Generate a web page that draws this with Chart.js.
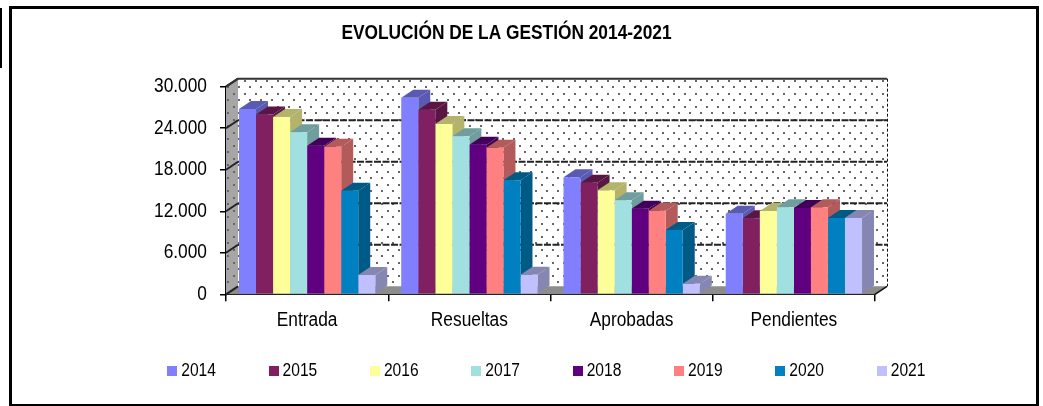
<!DOCTYPE html>
<html>
<head>
<meta charset="utf-8">
<script src="https://cdn.jsdelivr.net/npm/chart.js@4"></script>
<style>
html,body{margin:0;padding:0;background:#fff;overflow:hidden;}
#marco{position:absolute;left:9px;top:6px;width:1024px;height:395px;border:3px solid #000;border-bottom-width:2px;}
#trozo{position:absolute;left:0;top:8px;width:2px;height:60px;background:#000;}
#grafica{position:absolute;left:0;top:0;}
</style>
</head>
<body>
<div id="trozo"></div>
<div id="marco"></div>
<canvas id="grafica" width="1043" height="406"></canvas>
<script>
var categorias = ['Entrada','Resueltas','Aprobadas','Pendientes'];
var anios = ['2014','2015','2016','2017','2018','2019','2020','2021'];
var v2014 = [26780,28410,16900,11650];
var v2015 = [26000,26680,16130,10980];
var v2016 = [25620,24610,15030,12040];
var v2017 = [23400,22830,13580,12570];
var v2018 = [21480,21620,12370,12470];
var v2019 = [21330,21190,12080,12570];
var v2020 = [14970,16470,9290,11030];
var v2021 = [2790,2830,1530,11030];
var marcasY = [0,6000,12000,18000,24000,30000];
var colores = ['#8080FF','#802060','#FFFF99','#A0E0E0','#600080','#FF8080','#0080C0','#C0C0FF'];
var valores = [v2014,v2015,v2016,v2017,v2018,v2019,v2020,v2021];

// desplazamiento de la pared del fondo
var fondoX = 12;
var fondoY = 8;
var letra = '"Liberation Sans", Arial, sans-serif';

function oscurecer(hex){
    var n = parseInt(hex.slice(1),16);
    var r = Math.round((n>>16)*0.7), g = Math.round(((n>>8)&255)*0.7), b = Math.round((n&255)*0.7);
    return 'rgb('+r+','+g+','+b+')';
}

function puntos(fondo){
    var c = document.createElement('canvas');
    c.width = 11; c.height = 13;
    var x = c.getContext('2d');
    x.fillStyle = fondo;
    x.fillRect(0,0,11,13);
    x.fillStyle = '#666';
    x.fillRect(2,2,2,2);
    x.fillRect(7,8,2,2);
    return c;
}

function cuadrito(color){
    var c = document.createElement('canvas');
    c.width = 10; c.height = 10;
    var x = c.getContext('2d');
    x.fillStyle = color;
    x.fillRect(0,0,10,10);
    return c;
}

function poligono(ctx,p,relleno){
    ctx.beginPath();
    ctx.moveTo(p[0][0],p[0][1]);
    for(var i=1;i<p.length;i++) ctx.lineTo(p[i][0],p[i][1]);
    ctx.closePath();
    ctx.fillStyle = relleno;
    ctx.fill();
}

var paredes = {
    id:'paredes',
    afterLayout:function(chart){
        // la leyenda va mas a la derecha que el titulo
        chart.legend.left += 45;
        chart.legend.right += 45;
        chart.legend.top += 1;
        // las etiquetas del eje X se recortan con la caja de la escala
        chart.scales.x.bottom += 30;
    },
    beforeDatasetsDraw:function(chart){
        var ctx = chart.ctx, a = chart.chartArea, y = chart.scales.y;
        ctx.save();
        // pared del fondo
        ctx.fillStyle = ctx.createPattern(puntos('#fff'),'repeat');
        ctx.fillRect(a.left+fondoX,a.top-fondoY,a.right-a.left,a.bottom-a.top);
        // pared izquierda y suelo
        poligono(ctx,[[a.left,a.top],[a.left+fondoX,a.top-fondoY],[a.left+fondoX,a.bottom-fondoY],[a.left,a.bottom]],ctx.createPattern(puntos('#a6a6a6'),'repeat'));
        poligono(ctx,[[a.left,a.bottom],[a.left+fondoX,a.bottom-fondoY],[a.right+fondoX,a.bottom-fondoY],[a.right,a.bottom]],'#8c8c8c');
        // rejilla
        ctx.strokeStyle = '#222';
        ctx.lineWidth = 2;
        y.ticks.forEach(function(t){
            var py = y.getPixelForValue(t.value);
            ctx.setLineDash([]);
            ctx.beginPath();
            ctx.moveTo(a.left,py);
            ctx.lineTo(a.left+fondoX,py-fondoY);
            ctx.stroke();
            if(t.value>0 && t.value<y.max){
                ctx.setLineDash([7,1.5]);
                ctx.beginPath();
                ctx.moveTo(a.left+fondoX,py-fondoY);
                ctx.lineTo(a.right+fondoX,py-fondoY);
                ctx.stroke();
            }
        });
        // bordes de la pared
        ctx.setLineDash([]);
        ctx.lineWidth = 2;
        ctx.strokeStyle = '#333';
        ctx.beginPath();
        ctx.moveTo(a.left,a.top);
        ctx.lineTo(a.left+fondoX,a.top-fondoY);
        ctx.lineTo(a.right+fondoX,a.top-fondoY);
        ctx.stroke();
        ctx.strokeStyle = '#111';
        ctx.lineWidth = 1;
        ctx.setLineDash([3,2]);
        ctx.beginPath();
        ctx.moveTo(a.right+fondoX+0.5,a.top-fondoY);
        ctx.lineTo(a.right+fondoX+0.5,a.bottom-fondoY);
        ctx.stroke();
        ctx.setLineDash([]);
        ctx.lineWidth = 1.5;
        ctx.beginPath();
        ctx.moveTo(a.right+fondoX,a.bottom-fondoY);
        ctx.lineTo(a.right,a.bottom);
        ctx.stroke();
        // caras lateral y superior de cada barra, de izquierda a derecha; la frontal la pinta Chart.js
        chart.data.datasets.forEach(function(d,i){
            var sombra = oscurecer(colores[i]);
            chart.getDatasetMeta(i).data.forEach(function(b){
                var der = b.x+b.width/2, izq = b.x-b.width/2;
                poligono(ctx,[[der,b.y],[der+fondoX,b.y-fondoY],[der+fondoX,b.base-fondoY],[der,b.base]],sombra);
                poligono(ctx,[[izq,b.y],[izq+fondoX,b.y-fondoY],[der+fondoX,b.y-fondoY],[der,b.y]],sombra);
            });
        });
        ctx.restore();
    }
};

var conjuntos = [];
for(var i=0;i<anios.length;i++){
    conjuntos.push({
        label:anios[i],
        data:valores[i],
        backgroundColor:colores[i],
        borderWidth:0
    });
}

var ctx = document.getElementById('grafica').getContext('2d');

// el texto del original esta estrechado en horizontal
var textoNormal = ctx.fillText.bind(ctx);
ctx.fillText = function(t,x,y,m){
    ctx.save();
    ctx.translate(x,y);
    ctx.scale(0.866,1);
    textoNormal(t,0,0,m);
    ctx.restore();
};

new Chart(ctx,{
    type:'bar',
    data:{labels:categorias,datasets:conjuntos},
    plugins:[paredes],
    options:{
        responsive:false,
        animation:false,
        categoryPercentage:0.84,
        barPercentage:1,
        layout:{padding:{left:0,right:30,top:0,bottom:16.7}},
        plugins:{
            tooltip:{enabled:false},
            title:{
                display:true,
                text:'EVOLUCIÓN DE LA GESTIÓN 2014-2021',
                color:'#000',
                font:{family:letra,size:20,weight:'bold'},
                padding:{top:21,bottom:41.7}
            },
            legend:{
                position:'bottom',
                labels:{
                    color:'#000',
                    font:{family:letra,size:18},
                    usePointStyle:true,
                    pointStyleWidth:0.01,
                    padding:52.3,
                    generateLabels:function(chart){
                        return chart.data.datasets.map(function(d,i){
                            return {text:d.label,datasetIndex:i,pointStyle:cuadrito(colores[i]),fontColor:'#000',strokeStyle:'transparent',lineWidth:0};
                        });
                    }
                }
            }
        },
        scales:{
            x:{
                afterFit:function(s){s.height=14.7;},
                grid:{drawOnChartArea:false,color:'#000',tickLength:7,lineWidth:1.5,offset:true},
                border:{color:'#000',width:2},
                ticks:{color:'#000',font:{family:letra,size:20},padding:7,maxRotation:0}
            },
            y:{
                min:0,
                max:30000,
                afterFit:function(s){s.width=226;},
                grid:{drawOnChartArea:false,color:'#000',tickLength:6,lineWidth:1.5},
                border:{color:'#000',width:1.5},
                afterBuildTicks:function(s){
                    s.ticks = marcasY.map(function(v){return {value:v};});
                },
                ticks:{
                    color:'#000',
                    font:{family:letra,size:20},
                    padding:13,
                    callback:function(v){return v===0?'0':(v/1000).toFixed(3);}
                }
            },
            // eje vacio para dejar el margen derecho
            margen:{
                position:'right',
                afterFit:function(s){s.width=138;},
                grid:{display:false},
                border:{display:false},
                ticks:{display:false}
            }
        }
    }
});
</script>
</body>
</html>
